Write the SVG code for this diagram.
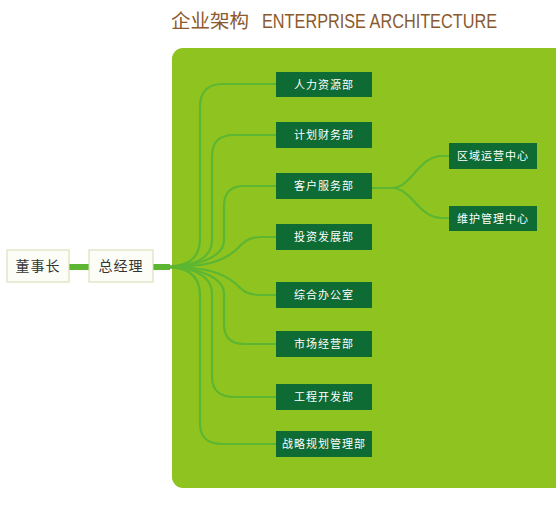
<svg xmlns="http://www.w3.org/2000/svg" width="556" height="517" viewBox="0 0 556 517">
<style>
.title{font-family:"Liberation Sans","Noto Sans CJK SC",sans-serif;fill:#8a5a2e;font-size:20px}
.dept rect{fill:#0d6b33}
.dept text{font-family:"Noto Sans CJK SC",sans-serif;font-size:11px;fill:#ffffff;text-anchor:middle;letter-spacing:1px}
.top rect{fill:#fcfdf6;stroke:#d3dcae;stroke-width:1}
.top text{font-family:"Noto Sans CJK SC",sans-serif;font-size:14px;fill:#333333;text-anchor:middle;letter-spacing:1px}
.conn path{fill:none;stroke:#5cb632;stroke-width:2.2}
.conn path.thick{stroke-width:6}
</style>
<rect x="0" y="0" width="556" height="517" fill="#ffffff"/>
<text class="title" x="171" y="28" style="font-family:'Noto Sans CJK SC',sans-serif;font-size:19.5px">企业架构</text>
<text class="title" x="262" y="28" textLength="235" lengthAdjust="spacingAndGlyphs">ENTERPRISE ARCHITECTURE</text>
<rect x="172" y="48" width="400" height="440" rx="11" ry="11" fill="#8fc31f"/>
<g class="conn">
<path class="thick" d="M69 267 H89"/>
<path class="thick" d="M153 267 H170"/>
<path d="M160 267 C185 267 200 262 200 238 V106 C200 92 208 84 222 84 H276"/>
<path d="M162 267 C190 267 212 260 212 240 V156 C212 142 220 135 234 135 H276"/>
<path d="M164 267 C195 267 224 258 224 240 V206 C224 193 231 186 244 186 H276"/>
<path d="M166 267 C205 267 222 262 236 250 C244 242 248 237 262 237 H276"/>
<path d="M166 267 C205 267 222 272 236 284 C244 292 248 295 262 295 H276"/>
<path d="M164 267 C195 267 224 276 224 294 V324 C224 337 231 344 244 344 H276"/>
<path d="M162 267 C190 267 212 274 212 294 V377 C212 390 220 397 234 397 H276"/>
<path d="M160 267 C185 267 200 272 200 296 V424 C200 437 208 444 222 444 H276"/>
<path d="M372 188 H392 C412 188 418 156 442 156 H449"/>
<path d="M372 188 H392 C412 188 418 218 442 218 H449"/>
</g>
<g id="n-dsz" class="top"><rect x="7" y="250" width="62" height="32"/><text x="38" y="271">董事长</text></g>
<g id="n-zjl" class="top"><rect x="89" y="250" width="64" height="32"/><text x="121" y="271">总经理</text></g>
<g id="n-rl" class="dept"><rect x="276" y="72" width="96" height="25"/><text x="324" y="88.5">人力资源部</text></g>
<g id="n-jh" class="dept"><rect x="276" y="122" width="96" height="26"/><text x="324" y="139">计划财务部</text></g>
<g id="n-kh" class="dept"><rect x="276" y="173" width="96" height="26"/><text x="324" y="190">客户服务部</text></g>
<g id="n-tz" class="dept"><rect x="276" y="224" width="96" height="26"/><text x="324" y="241">投资发展部</text></g>
<g id="n-zh" class="dept"><rect x="276" y="282" width="96" height="26"/><text x="324" y="299">综合办公室</text></g>
<g id="n-sc" class="dept"><rect x="276" y="331" width="96" height="26"/><text x="324" y="348">市场经营部</text></g>
<g id="n-gc" class="dept"><rect x="276" y="384" width="96" height="26"/><text x="324" y="401">工程开发部</text></g>
<g id="n-zl" class="dept"><rect x="276" y="431" width="96" height="26"/><text x="324" y="448">战略规划管理部</text></g>
<g id="n-qy" class="dept"><rect x="449" y="143" width="88" height="26"/><text x="493" y="160">区域运营中心</text></g>
<g id="n-wh" class="dept"><rect x="449" y="206" width="88" height="25"/><text x="493" y="222.5">维护管理中心</text></g>
</svg>
